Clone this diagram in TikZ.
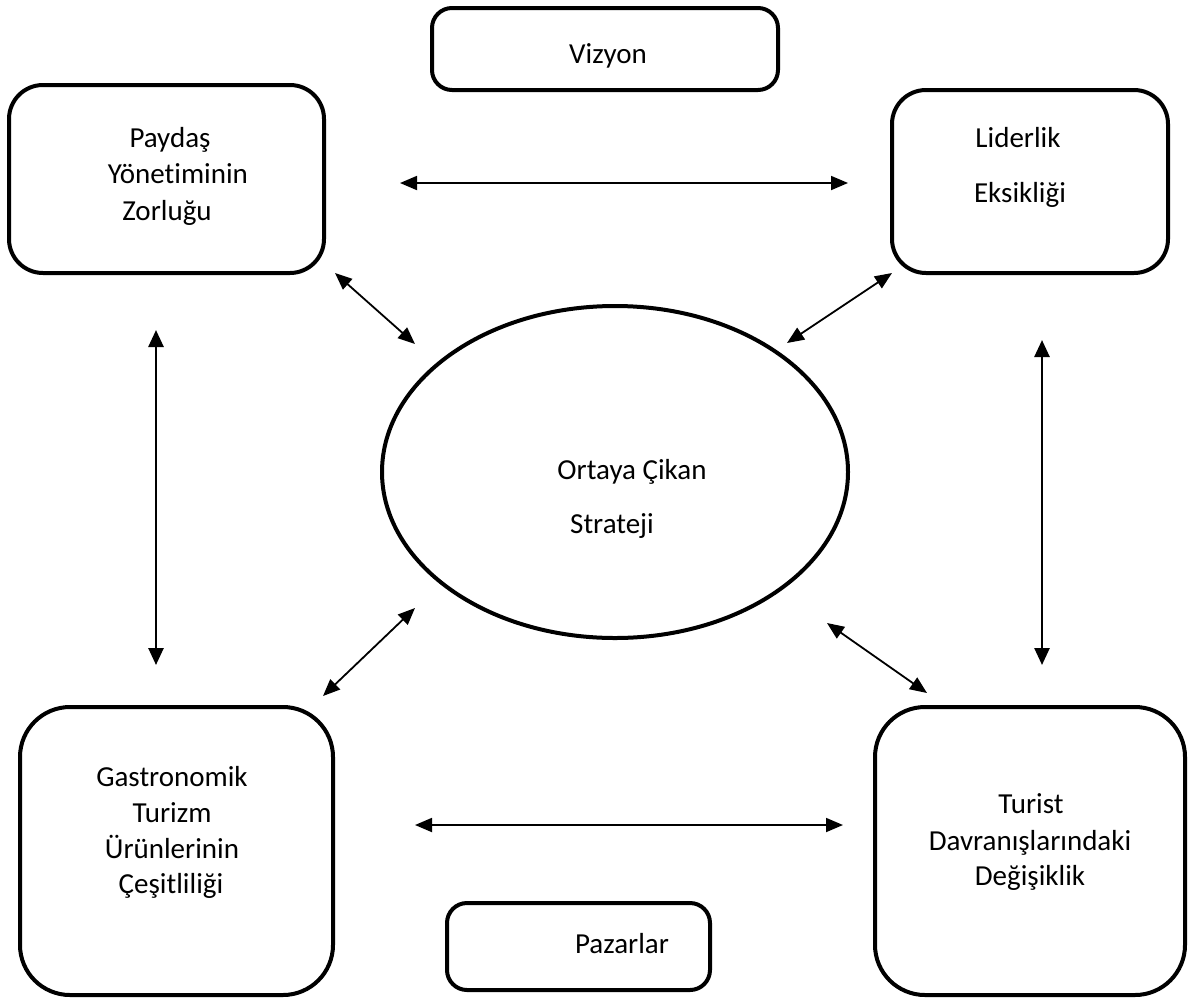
\documentclass[tikz,border=0pt]{standalone}
\usepackage{fontspec}
\setmainfont[Ligatures={NoCommon}]{Carlito}
\usetikzlibrary{shapes.geometric,arrows.meta}
\begin{document}
\begin{tikzpicture}[x=1pt,y=-1pt,
  box/.style={draw,line width=4pt,rectangle,inner sep=0pt},
  oval/.style={draw,line width=4pt,ellipse,inner sep=0pt,minimum width=466pt,minimum height=332pt},
  txt/.style={anchor=base,inner sep=0pt,font=\fontsize{29}{36}\selectfont},
  link/.style={line width=1.8pt,{Triangle[length=17pt,width=14pt]}-{Triangle[length=17pt,width=14pt]}},
  vlink/.style={line width=2.6pt,{Triangle[length=17pt,width=15pt]}-{Triangle[length=17pt,width=15pt]}}]
\useasboundingbox (0,0) rectangle (1188,999);
% boxes
\node[box,rounded corners=20pt,minimum width=346pt,minimum height=82pt] (viz) at (605,49) {};
\node[box,rounded corners=34pt,minimum width=315pt,minimum height=188pt] (pay) at (166.5,179) {};
\node[box,rounded corners=34pt,minimum width=276pt,minimum height=183pt] (lid) at (1030,181.5) {};
\node[box,rounded corners=50pt,minimum width=313pt,minimum height=288pt] (gas) at (176.5,851) {};
\node[box,rounded corners=50pt,minimum width=310pt,minimum height=288pt] (tur) at (1030,851) {};
\node[box,rounded corners=20pt,minimum width=263pt,minimum height=87pt] (paz) at (578.5,946.5) {};
\node[oval] (ort) at (615,472) {};
% texts
\node[txt] (vizt) at (608,63) {Vizyon};
\node[txt] (payt1) at (170,147) {Paydaş};
\node[txt] (payt2) at (178,183) {Yönetiminin};
\node[txt] (payt3) at (167,220) {Zorluğu};
\node[txt] (lidt1) at (1018,147) {Liderlik};
\node[txt] (lidt2) at (1020,202) {Eksikliği};
\node[txt] (gast1) at (172,786) {Gastronomik};
\node[txt] (gast2) at (172,822) {Turizm};
\node[txt] (gast3) at (172,858) {Ürünlerinin};
\node[txt] (gast4) at (171,893) {Çeşitliliği};
\node[txt] (turt1) at (1031,813) {Turist};
\node[txt] (turt2) at (1030,850) {Davranışlarındaki};
\node[txt] (turt3) at (1030,885) {Değişiklik};
\node[txt] (ortt1) at (632,479) {Ortaya Çikan};
\node[txt] (ortt2) at (612,533) {Strateji};
\node[txt] (pazt) at (622,953) {Pazarlar};
% connector end points
\coordinate (h1a) at (400,183);  \coordinate (h1b) at (848,183);
\coordinate (h2a) at (415,825);  \coordinate (h2b) at (843,825);
\coordinate (v1a) at (156,330);  \coordinate (v1b) at (156,665);
\coordinate (v2a) at (1042,340); \coordinate (v2b) at (1042,665);
\coordinate (d1a) at (335,273);  \coordinate (d1b) at (415,344);
\coordinate (d2a) at (892,273);  \coordinate (d2b) at (787,343);
\coordinate (d3a) at (415,608);  \coordinate (d3b) at (323,696);
\coordinate (d4a) at (827,623);  \coordinate (d4b) at (927,693);
% connectors
\draw[link] (h1a) -- (h1b);
\draw[link] (h2a) -- (h2b);
\draw[vlink] (v1a) -- (v1b);
\draw[vlink] (v2a) -- (v2b);
\draw[link] (d1a) -- (d1b);
\draw[link] (d2a) -- (d2b);
\draw[link] (d3a) -- (d3b);
\draw[link] (d4a) -- (d4b);
\end{tikzpicture}
\end{document}
